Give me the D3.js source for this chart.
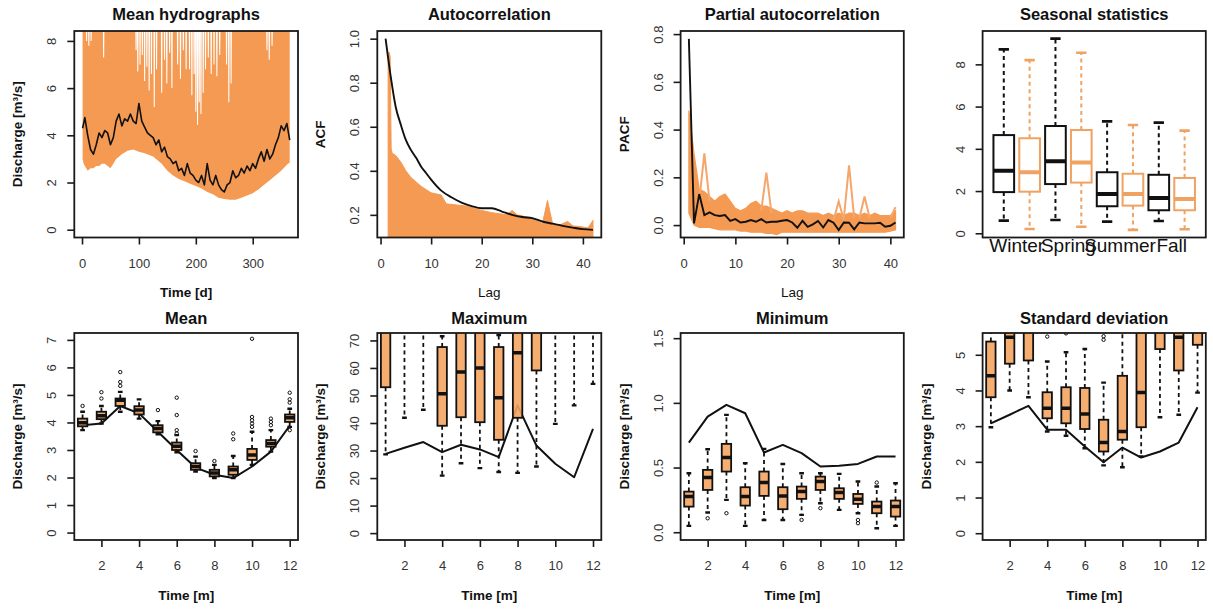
<!DOCTYPE html>
<html><head><meta charset="utf-8">
<script src="https://cdn.jsdelivr.net/npm/d3@7"></script>
<style>body{margin:0;background:#fff}</style>
</head><body><script>
// ---------------- DATA ----------------
// Mean hydrographs (daily)
const hydroDays = [1,5,10,15,20,25,30,35,40,45,50,55,60,65,70,75,80,85,90,95,100,105,110,115,120,125,130,135,140,145,150,155,160,165,170,175,180,185,190,195,200,205,210,215,220,225,230,235,240,245,250,255,260,265,270,275,280,285,290,295,300,305,310,315,320,325,330,335,340,345,350,355,360,365];
const hydroObs = [4.3,4.75,4.0,3.4,3.2,3.6,4.1,3.9,4.2,4.1,3.6,3.9,4.6,4.9,4.4,4.7,4.6,4.9,4.6,4.5,5.35,4.6,4.35,4.1,4.0,3.9,3.6,3.8,3.3,3.5,3.1,3.0,2.8,2.9,2.5,2.6,2.3,2.8,2.4,2.3,2.1,2.0,2.3,1.9,2.8,2.1,1.9,2.3,1.9,1.7,1.6,1.9,2.0,2.5,2.2,2.3,2.6,2.4,2.7,2.5,2.8,2.6,3.0,3.3,2.9,3.4,3.0,3.2,3.6,3.9,4.4,4.2,4.5,3.8];
const hydroLowDays = [1,3,5,10,15,20,25,30,35,40,45,50,55,60,70,80,90,100,110,125,140,150,160,170,180,190,200,210,220,230,240,250,260,270,280,290,300,310,320,330,340,350,360,365];
const hydroSimLow = [3.0,2.8,2.7,2.5,2.6,2.6,2.7,2.7,2.8,2.8,2.7,2.6,2.8,3.0,3.2,3.35,3.4,3.3,3.24,3.1,2.8,2.5,2.3,2.15,2.05,1.95,1.85,1.75,1.6,1.5,1.35,1.3,1.27,1.27,1.35,1.45,1.55,1.7,1.9,2.1,2.3,2.5,2.75,2.85];
const hydroSimMax = 8.8;
const hydroGapDays  = [8,12,16,38,95,98,102,106,110,114,118,122,127,131,140,145,149,154,158,168,173,178,183,189,193,197,200,203,206,209,213,217,222,227,232,237,242,254,258,262,325,329,334];
const hydroGapDepth = [8.0,7.8,8.0,7.3,7.6,6.7,7.0,7.4,6.3,6.9,5.9,6.6,5.2,6.8,5.8,7.2,6.2,7.5,6.0,7.0,6.4,7.6,6.8,6.8,5.7,6.6,5.0,4.45,5.4,4.9,5.8,6.8,7.3,6.6,7.0,6.5,7.4,7.0,5.4,6.2,7.6,7.2,7.8];

// Autocorrelation
const acfLag = [1,2,3,4,5,6,7,8,9,10,12,14,16,18,20,22,24,26,28,30,32,34,36,38,40,42];
const acfObs = [1.0,0.83,0.69,0.61,0.54,0.495,0.46,0.42,0.39,0.36,0.31,0.28,0.256,0.24,0.23,0.23,0.215,0.20,0.19,0.185,0.17,0.16,0.15,0.142,0.135,0.132];
const acfSimUpLag = [1.5,1.5,1.65,1.9,2.1,2.3,3,4,5,6,7,8,10,12,13,15,17,20,22,25,26,27,30,32,33,34,35,37,38,40,41,42];
const acfSimUp = [0.05,0.90,0.94,0.92,0.50,0.48,0.47,0.44,0.40,0.37,0.35,0.33,0.30,0.29,0.25,0.245,0.24,0.22,0.21,0.20,0.22,0.20,0.185,0.16,0.265,0.16,0.15,0.17,0.15,0.145,0.14,0.175];
const acfSimLowLag = [1.5,42];
const acfSimLow = [0.05,0.05];

// Partial autocorrelation (lags 1..41)
const pacfLag = d3.range(1,42);
const pacfObs = [0.78,0.007,0.13,0.042,0.053,0.042,0.038,0.042,0.018,0.025,0.011,0.014,0.021,0.014,0.025,0.011,0.014,0.014,0.018,0.021,0.011,-0.011,0.018,-0.007,0.003,0.017,-0.01,0.021,0.01,-0.021,0.011,0.01,-0.018,0.011,0.007,0.007,0.007,0.01,-0.007,-0.003,0.011];
const pacfSimUp = [0.48,0.30,0.15,0.14,0.12,0.10,0.12,0.13,0.10,0.07,0.06,0.07,0.09,0.10,0.08,0.08,0.07,0.06,0.05,0.06,0.05,0.06,0.06,0.05,0.05,0.05,0.04,0.05,0.04,0.05,0.04,0.05,0.05,0.04,0.05,0.04,0.05,0.04,0.04,0.04,0.06];
const pacfSimLow = [0.05,0.0,-0.01,-0.01,-0.01,-0.015,-0.02,-0.02,-0.02,-0.02,-0.025,-0.025,-0.03,-0.03,-0.03,-0.035,-0.035,-0.04,-0.03,-0.03,-0.03,-0.03,-0.03,-0.03,-0.03,-0.03,-0.03,-0.03,-0.03,-0.03,-0.03,-0.03,-0.03,-0.03,-0.03,-0.03,-0.03,-0.03,-0.03,-0.025,-0.02];
// single simulated curves that stick out of the band: [lag before, peak lag, lag after]
const pacfSpikeLags = [[3,4,5],[15,16,17],[29,30,31],[31,32,33],[34,35,36],[40,41,41]];
const pacfSpikeVals = [[0.10,0.30,0.10],[0.06,0.22,0.05],[0.02,0.10,0.02],[0.03,0.25,0.03],[0.03,0.12,0.03],[0.03,0.075,0.075]];

// Seasonal statistics: [lower whisker, Q1, median, Q3, upper whisker]
const seasonNames = ["Winter","Spring","Summer","Fall"];
const seasonObs = [[0.6,1.95,2.96,4.65,8.71],[0.63,2.33,3.41,5.08,9.22],[0.55,1.28,1.86,2.89,5.3],[0.58,1.09,1.67,2.77,5.24]];
const seasonSim = [[0.2,1.97,2.89,4.5,8.2],[0.31,2.4,3.35,4.89,8.55],[0.16,1.31,1.86,2.82,5.13],[0.19,1.09,1.62,2.62,4.86]];

// Monthly statistics
const months = [1,2,3,4,5,6,7,8,9,10,11,12];
const meanObs = [3.90,3.96,4.60,4.33,3.66,3.00,2.36,2.10,1.98,2.40,2.94,3.88];
const meanSim = [[3.72,3.86,3.99,4.14,4.39],[3.96,4.12,4.24,4.39,4.60],[4.39,4.60,4.81,4.87,5.11],[4.14,4.29,4.45,4.59,4.84],[3.57,3.64,3.78,3.90,4.05],[2.92,3.00,3.14,3.27,3.54],[2.22,2.28,2.40,2.52,2.76],[1.98,2.04,2.16,2.28,2.46],[1.98,2.10,2.28,2.40,2.78],[2.46,2.64,2.82,3.04,3.66],[2.94,3.12,3.24,3.36,3.72],[3.84,4.02,4.17,4.29,4.50]];
const meanSimOut = [[4.60],[4.87,5.10],[5.33,5.47,5.83],[],[4.45],[3.60,3.72,4.27,4.90],[2.96],[2.60],[3.39,3.60],[3.84,3.96,4.08,4.20,7.04],[3.90,4.02,4.14],[3.72,4.72,4.84,5.08]];

const maxObs = [28.8,31.0,33.1,29.4,32.1,30.4,27.6,46.4,31.8,25.2,20.3,37.9];
const maxSim = [[28.6,53.0,80,95,130],[41.9,80,95,110,150],[44.8,80,95,110,150],[20.9,39.0,50.6,67.6,71.5],[25.4,42.1,58.5,80,120],[23.6,40.3,60.0,80,120],[22.2,33.9,49.2,67.6,72.0],[21.9,41.9,65.5,85,120],[24.2,59.1,80,95,130],[39.7,80,95,110,150],[46.4,80,95,110,150],[54.2,80,95,110,150]];

const minObs = [0.693,0.894,0.985,0.92,0.616,0.675,0.611,0.508,0.513,0.528,0.585,0.585];
const minSim = [[0.049,0.198,0.276,0.314,0.456],[0.152,0.327,0.423,0.482,0.642],[0.25,0.469,0.577,0.683,0.907],[0.049,0.206,0.276,0.348,0.533],[0.095,0.281,0.384,0.469,0.644],[0.095,0.178,0.281,0.348,0.528],[0.134,0.258,0.314,0.353,0.456],[0.224,0.327,0.392,0.43,0.456],[0.173,0.258,0.307,0.34,0.451],[0.147,0.219,0.255,0.296,0.392],[0.031,0.147,0.198,0.237,0.353],[0.049,0.121,0.198,0.245,0.379]];
const minSimOut = [[],[0.108],[0.147],[],[],[],[0.095],[0.186],[],[0.07,0.095],[0.384],[]];

const sdObs = [3.08,3.32,3.57,2.90,2.90,2.43,1.99,2.40,2.12,2.29,2.54,3.53];
const sdSim = [[2.97,3.81,4.41,5.37,5.9],[4.0,4.75,5.49,6.5,8.0],[3.81,4.84,6.0,7.0,8.5],[2.85,3.22,3.50,3.95,4.81],[2.73,3.08,3.50,4.09,5.07],[2.38,2.92,3.34,4.07,5.16],[1.90,2.29,2.54,3.18,4.22],[1.85,2.62,2.85,4.41,6.5],[2.15,2.97,3.94,6.0,8.0],[3.25,5.16,6.0,7.0,8.5],[3.32,4.56,5.49,6.2,8.0],[3.94,5.28,6.0,7.0,8.5]];
const sdSimOut = [[],[],[],[5.51],[5.6],[],[5.42,5.52],[],[],[],[],[]];

// Tick labels
const hydroXTicks = [0,100,200,300], hydroYTicks = [0,2,4,6,8];
const lagTicks = [0,10,20,30,40];
const acfYTicks = [0.2,0.4,0.6,0.8,1.0];
const pacfYTicks = [0.0,0.2,0.4,0.6,0.8];
const seasonYTicks = [0,2,4,6,8];
const monthTicks = [2,4,6,8,10,12];
const meanYTicks = [0,1,2,3,4,5,6,7];
const maxYTicks = [0,10,20,30,40,50,60,70];
const minYTicks = [0.0,0.5,1.0,1.5];
const sdYTicks = [0,1,2,3,4,5];

// ---------------- DRAWING ----------------
const FONT = '"Liberation Sans", Arial, Helvetica, sans-serif';
const ORANGE = "#F59A52", BOXFILL = "#F4A460", SEAS_OR = "#F0A262", INK = "#1a1a1a";
const svg = d3.select("body").append("svg").attr("width",1213).attr("height",610).style("display","block");
const defs = svg.append("defs");
let clipN = 0;

const COLS = [[74.3,298],[377.3,601.3],[680.6,903.8],[982.6,1205.8]];
const ROWS = [[31,237.5,20],[333,540,324]];
const DIS = "Discharge [m\u00B3/s]";

function makePanel(o){
  const x = d3.scaleLinear().domain(o.xdom).range([o.x0,o.x1]);
  const y = d3.scaleLinear().domain(o.ydom).range([o.y1,o.y0]);
  const id = "clip"+(clipN++);
  defs.append("clipPath").attr("id",id).append("rect")
    .attr("x",o.x0).attr("y",o.y0).attr("width",o.x1-o.x0).attr("height",o.y1-o.y0);
  const g = svg.append("g").attr("clip-path",`url(#${id})`);
  return {x,y,g,o};
}
function decorate(p){
  const {x,y,o} = p;
  svg.append("rect").attr("x",o.x0).attr("y",o.y0).attr("width",o.x1-o.x0).attr("height",o.y1-o.y0)
    .attr("fill","none").attr("stroke",INK).attr("stroke-width",1.8);
  if(o.xticks){
    const ax = svg.append("g").attr("transform",`translate(0,${o.y1})`)
      .call(d3.axisBottom(x).tickValues(o.xticks).tickSize(7).tickPadding(14).tickFormat(o.xfmt||(d=>d)));
    ax.attr("font-size",13).attr("font-family",FONT);
    ax.select(".domain").remove();
    ax.selectAll(".tick line").attr("stroke",INK).attr("stroke-width",1.6);
    ax.selectAll(".tick text").attr("fill","#333");
  }
  const ay = svg.append("g").attr("transform",`translate(${o.x0},0)`)
    .call(d3.axisLeft(y).tickValues(o.yticks).tickSize(7).tickFormat(o.yfmt||(d=>d)));
  ay.attr("font-size",13).attr("font-family",FONT);
  ay.select(".domain").remove();
  ay.selectAll(".tick line").attr("stroke",INK).attr("stroke-width",1.6);
  ay.selectAll(".tick text").attr("x",0).attr("y",-22.5).attr("dy",null)
    .attr("text-anchor","middle").attr("dominant-baseline","central")
    .attr("transform","rotate(-90)").attr("fill","#333");
  const cx = (o.x0+o.x1)/2, cy = (o.y0+o.y1)/2;
  svg.append("text").attr("x",cx).attr("y",o.tb).attr("text-anchor","middle")
    .attr("font-family",FONT).attr("font-weight","bold").attr("font-size",16.5).attr("fill","#111").text(o.title);
  if(o.xlab) svg.append("text").attr("x",cx).attr("y",o.y1+55).attr("text-anchor","middle")
    .attr("dominant-baseline","central").attr("font-family",FONT)
    .attr("font-weight",o.xlabBold===false?"normal":"bold").attr("font-size",13.5).attr("fill","#111").text(o.xlab);
  if(o.ylab) svg.append("text").attr("transform",`translate(${o.x0-56.5},${cy}) rotate(-90)`)
    .attr("text-anchor","middle").attr("dominant-baseline","central").attr("font-family",FONT)
    .attr("font-weight","bold").attr("font-size",13.5).attr("fill","#111").text(o.ylab);
}
function cfg(col,row,extra){
  return Object.assign({x0:COLS[col][0],x1:COLS[col][1],y0:ROWS[row][0],y1:ROWS[row][1],tb:ROWS[row][2]},extra);
}
function lineOf(p,xs,ys){
  return d3.line().x(d=>p.x(d[0])).y(d=>p.y(d[1]))(d3.zip(xs,ys));
}
function bandOf(p,ux,uy,lx,ly){
  const pts = d3.zip(ux,uy).concat(d3.zip(lx,ly).reverse());
  return d3.line().x(d=>p.x(d[0])).y(d=>p.y(d[1]))(pts)+"Z";
}
function boxes(p,pos,stats,outs,st){
  pos.forEach((xv,i)=>{
    const s = stats[i], cx = p.x(xv);
    const half = (p.x(xv+st.w/2)-p.x(xv-st.w/2))/2;
    const g = p.g.append("g");
    const dash = g.append("g").attr("stroke",st.stroke).attr("stroke-width",st.lw).attr("stroke-dasharray",st.dash);
    dash.append("line").attr("x1",cx).attr("x2",cx).attr("y1",p.y(s[3])).attr("y2",p.y(s[4]));
    dash.append("line").attr("x1",cx).attr("x2",cx).attr("y1",p.y(s[1])).attr("y2",p.y(s[0]));
    [s[0],s[4]].forEach(v=>g.append("line").attr("x1",cx-half*st.staple).attr("x2",cx+half*st.staple)
      .attr("y1",p.y(v)).attr("y2",p.y(v)).attr("stroke",st.stroke).attr("stroke-width",st.lw+0.6));
    g.append("rect").attr("x",cx-half).attr("width",2*half).attr("y",p.y(s[3])).attr("height",p.y(s[1])-p.y(s[3]))
      .attr("fill",st.fill).attr("fill-opacity",st.fo||1).attr("stroke",st.stroke).attr("stroke-width",st.lw);
    g.append("line").attr("x1",cx-half).attr("x2",cx+half).attr("y1",p.y(s[2])).attr("y2",p.y(s[2]))
      .attr("stroke",st.stroke).attr("stroke-width",st.medw);
    if(outs) outs[i].forEach(v=>g.append("circle").attr("cx",cx).attr("cy",p.y(v)).attr("r",1.7)
      .attr("fill","none").attr("stroke",st.stroke).attr("stroke-width",1));
  });
}

// Panel 1: Mean hydrographs
{
  const p = makePanel(cfg(0,0,{xdom:[-13.56,379.56],ydom:[-0.33,8.42],xticks:hydroXTicks,yticks:hydroYTicks,
    title:"Mean hydrographs",xlab:"Time [d]",ylab:DIS}));
  const ux=[1], uy=[hydroSimMax];
  hydroGapDays.forEach((d,i)=>{
    ux.push(d-1.5,d-0.9,d+0.9,d+1.5);
    uy.push(hydroSimMax,hydroGapDepth[i],hydroGapDepth[i],hydroSimMax);
  });
  ux.push(365); uy.push(hydroSimMax);
  p.g.append("path").attr("d",bandOf(p,ux,uy,hydroLowDays,hydroSimLow)).attr("fill",ORANGE);
  p.g.append("path").attr("d",lineOf(p,hydroDays,hydroObs)).attr("fill","none").attr("stroke","#111").attr("stroke-width",1.6).attr("stroke-linejoin","round");
  decorate(p);
}
// Panel 2: Autocorrelation
{
  const p = makePanel(cfg(1,0,{xdom:[-0.64,43.64],ydom:[0.0972,1.0348],xticks:lagTicks,yticks:acfYTicks,yfmt:d3.format(".1f"),
    title:"Autocorrelation",xlab:"Lag",xlabBold:false,ylab:"ACF"}));
  p.g.append("path").attr("d",bandOf(p,acfSimUpLag,acfSimUp,acfSimLowLag,acfSimLow)).attr("fill",ORANGE).attr("stroke",ORANGE).attr("stroke-width",1);
  p.g.append("path").attr("d",d3.line().curve(d3.curveMonotoneX).x(d=>p.x(d[0])).y(d=>p.y(d[1]))(d3.zip(acfLag,acfObs)))
    .attr("fill","none").attr("stroke","#111").attr("stroke-width",1.9);
  decorate(p);
}
// Panel 3: Partial autocorrelation
{
  const p = makePanel(cfg(2,0,{xdom:[-0.6,42.6],ydom:[-0.052,0.813],xticks:lagTicks,yticks:pacfYTicks,yfmt:d3.format(".1f"),
    title:"Partial autocorrelation",xlab:"Lag",xlabBold:false,ylab:"PACF"}));
  p.g.append("path").attr("d",bandOf(p,pacfLag,pacfSimUp,pacfLag,pacfSimLow)).attr("fill",ORANGE).attr("stroke",ORANGE).attr("stroke-width",1.2);
  pacfSpikeLags.forEach((ls,i)=>p.g.append("path").attr("d",lineOf(p,ls,pacfSpikeVals[i]))
    .attr("fill","none").attr("stroke","#F5A66A").attr("stroke-width",2));
  p.g.append("path").attr("d",lineOf(p,pacfLag,pacfObs)).attr("fill","none").attr("stroke","#111").attr("stroke-width",1.9);
  decorate(p);
}
// Panel 4: Seasonal statistics
{
  const p = makePanel(cfg(3,0,{xdom:[0.18,8.82],ydom:[-0.2,9.58],yticks:seasonYTicks,title:"Seasonal statistics"}));
  const posObs = seasonNames.map((d,i)=>2*i+1), posSim = seasonNames.map((d,i)=>2*i+2);
  boxes(p,posObs,seasonObs,null,{w:0.8,stroke:"#111",fill:"#fff",lw:2,medw:4,dash:"4,3.5",staple:0.5});
  boxes(p,posSim,seasonSim,null,{w:0.8,stroke:SEAS_OR,fill:"#fff",lw:2,medw:4,dash:"4,3.5",staple:0.5});
  decorate(p);
  seasonNames.forEach((n,i)=>svg.append("text").attr("x",p.x(2*i+1.5)).attr("y",251.5).attr("text-anchor","middle")
    .attr("font-family",FONT).attr("font-size",19).attr("fill","#111").text(n));
}
// Row 2 monthly panels
const monthly = [
  {col:0,title:"Mean",ydom:[-0.27,7.25],yticks:meanYTicks,obs:meanObs,sim:meanSim,out:meanSimOut},
  {col:1,title:"Maximum",ydom:[-2.5,72.7],yticks:maxYTicks,obs:maxObs,sim:maxSim,out:null},
  {col:2,title:"Minimum",ydom:[-0.06,1.54],yticks:minYTicks,yfmt:d3.format(".1f"),obs:minObs,sim:minSim,out:minSimOut},
  {col:3,title:"Standard deviation",ydom:[-0.19,5.61],yticks:sdYTicks,obs:sdObs,sim:sdSim,out:sdSimOut}
];
monthly.forEach(m=>{
  const p = makePanel(cfg(m.col,1,{xdom:[0.56,12.44],ydom:m.ydom,xticks:monthTicks,yticks:m.yticks,yfmt:m.yfmt,
    title:m.title,xlab:"Time [m]",ylab:DIS}));
  p.g.append("path").attr("d",lineOf(p,months,m.obs)).attr("fill","none").attr("stroke","#111").attr("stroke-width",2).attr("stroke-linejoin","round");
  boxes(p,months,m.sim,m.out,{w:0.5,stroke:"#111",fill:BOXFILL,fo:0.9,lw:1.8,medw:3.5,dash:"4,3.5",staple:0.5});
  decorate(p);
});
</script></body></html>
